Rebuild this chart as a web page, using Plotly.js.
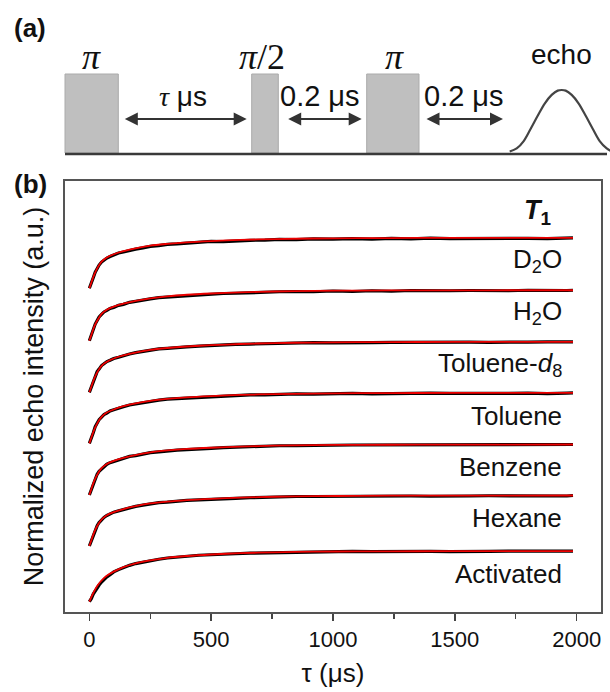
<!DOCTYPE html>
<html>
<head>
<meta charset="utf-8">
<script src="https://cdn.plot.ly/plotly-3.0.1.min.js"></script>
<style>html,body{margin:0;padding:0;background:#fff;}#chart{width:610px;height:692px;}</style>
</head>
<body>
<div id="chart"></div>
<script>
// ---------------- data ----------------
const seriesNames = ['D<sub>2</sub>O', 'H<sub>2</sub>O', 'Toluene-<i>d</i><sub>8</sub>', 'Toluene', 'Benzene', 'Hexane', 'Activated'];
const offsets = [6.41, 5.372, 4.35, 3.34, 2.317, 1.307, 0.204];

const tau = [0, 8, 16, 24, 32, 40, 50, 60, 72, 85, 100, 120, 140, 165, 190, 220, 250, 285, 320, 360, 400, 450, 500, 550, 600, 660, 720, 780, 850, 920, 1000, 1080, 1160, 1240, 1320, 1400, 1480, 1560, 1640, 1720, 1800, 1880, 1960, 1985];

const dataD2O = [0,0.09,0.21,0.32,0.40,0.46,0.52,0.56,0.60,0.63,0.66,0.70,0.72,0.755,0.775,0.80,0.83,0.845,0.87,0.88,0.895,0.905,0.93,0.925,0.94,0.95,0.955,0.97,0.965,0.98,0.975,0.985,0.975,0.99,0.98,0.995,0.985,0.99,0.98,0.995,0.99,0.985,0.99,1.0];
const dataH2O = [0,0.11,0.23,0.33,0.40,0.47,0.52,0.57,0.60,0.64,0.66,0.70,0.72,0.76,0.78,0.81,0.83,0.855,0.865,0.885,0.90,0.91,0.925,0.935,0.94,0.955,0.96,0.97,0.975,0.97,0.985,0.975,0.99,0.98,0.995,0.985,0.99,0.995,0.985,0.99,1.0,0.99,0.995,1.0];
const dataTolD8 = [0,0.10,0.22,0.32,0.41,0.46,0.53,0.565,0.61,0.635,0.67,0.695,0.73,0.76,0.785,0.81,0.835,0.86,0.87,0.89,0.90,0.915,0.93,0.935,0.95,0.955,0.965,0.97,0.975,0.985,0.98,0.99,0.985,0.99,0.995,0.985,0.99,0.995,0.99,0.985,0.995,1.0,0.99,1.0];
const dataToluene = [0,0.09,0.21,0.33,0.40,0.47,0.52,0.57,0.60,0.64,0.665,0.70,0.725,0.76,0.78,0.815,0.835,0.855,0.875,0.885,0.905,0.915,0.925,0.94,0.945,0.96,0.96,0.97,0.98,0.975,0.985,0.99,0.98,0.99,0.985,0.995,0.99,0.985,0.995,0.99,0.995,0.985,0.995,1.0];
const dataBenzene = [0,0.11,0.22,0.32,0.41,0.47,0.52,0.57,0.61,0.64,0.665,0.70,0.73,0.765,0.78,0.815,0.84,0.855,0.875,0.89,0.90,0.92,0.925,0.94,0.95,0.955,0.965,0.975,0.975,0.985,0.985,0.99,0.99,0.985,0.995,0.99,0.995,0.99,0.995,1.0,0.99,0.995,0.995,1.0];
const dataHexane = [0,0.10,0.22,0.33,0.40,0.465,0.525,0.565,0.605,0.635,0.67,0.695,0.725,0.76,0.785,0.81,0.835,0.86,0.87,0.89,0.905,0.915,0.93,0.94,0.945,0.955,0.965,0.97,0.98,0.98,0.985,0.985,0.99,0.995,0.99,0.985,0.995,0.99,0.995,0.99,0.995,0.995,0.99,1.0];
const dataActivated = [0,0.06,0.15,0.22,0.28,0.33,0.39,0.44,0.49,0.535,0.59,0.635,0.68,0.72,0.755,0.785,0.815,0.84,0.865,0.885,0.90,0.92,0.93,0.945,0.95,0.96,0.965,0.975,0.98,0.99,0.99,0.995,0.99,0.995,1.0,0.995,0.99,1.0,0.995,1.0,0.995,1.0,1.0,1.0];

const fitTau = [0, 10, 20, 35, 50, 70, 100, 140, 190, 250, 320, 400, 500, 620, 760, 920, 1100, 1350, 1650, 1985];
const fitD2O = [0,0.14,0.27,0.42,0.53,0.605,0.675,0.735,0.79,0.845,0.88,0.91,0.935,0.958,0.975,0.986,0.993,0.997,0.999,1.0];
const fitH2O = [0,0.14,0.28,0.42,0.53,0.61,0.675,0.735,0.79,0.84,0.88,0.91,0.935,0.957,0.975,0.986,0.993,0.997,0.999,1.0];
const fitTolD8 = [0,0.14,0.27,0.42,0.525,0.60,0.67,0.73,0.785,0.84,0.878,0.908,0.934,0.957,0.975,0.986,0.993,0.997,0.999,1.0];
const fitToluene = [0,0.14,0.27,0.42,0.525,0.605,0.67,0.735,0.79,0.842,0.88,0.91,0.935,0.958,0.975,0.986,0.993,0.997,0.999,1.0];
const fitBenzene = [0,0.145,0.28,0.425,0.53,0.61,0.675,0.735,0.79,0.845,0.882,0.912,0.936,0.958,0.976,0.987,0.993,0.997,0.999,1.0];
const fitHexane = [0,0.14,0.275,0.42,0.525,0.605,0.67,0.732,0.788,0.842,0.88,0.91,0.935,0.957,0.975,0.986,0.993,0.997,0.999,1.0];
const fitActivated = [0,0.11,0.21,0.33,0.42,0.51,0.595,0.685,0.76,0.82,0.87,0.905,0.935,0.96,0.978,0.99,0.996,0.999,1.0,1.0];

const xTickVals = [0, 500, 1000, 1500, 2000];
const xTickText = ['0', '500', '1000', '1500', '2000'];

// echo shape of the pulse-sequence schematic (relative time, relative amplitude)
const echoTime = [-52,-45,-38,-31,-24,-17,-10,-4,0,4,10,17,24,31,38,45,50];
const echoAmp  = [0.0,0.05,0.17,0.37,0.58,0.78,0.92,0.99,1.0,0.99,0.92,0.78,0.58,0.37,0.17,0.05,0.0];

// ---------------- build ----------------
const allData = [dataD2O, dataH2O, dataTolD8, dataToluene, dataBenzene, dataHexane, dataActivated];
const allFit = [fitD2O, fitH2O, fitTolD8, fitToluene, fitBenzene, fitHexane, fitActivated];

const FONT = 'Liberation Sans, Arial, Helvetica, sans-serif';
const SERIF = 'Liberation Serif, Times New Roman, serif';
const traces = [];
allData.forEach((d, i) => {
  traces.push({
    x: tau, y: d.map(v => v + offsets[i]), type: 'scatter', mode: 'lines',
    line: {color: '#000000', width: 3.2}, hoverinfo: 'skip', showlegend: false,
    xaxis: 'x', yaxis: 'y'
  });
});
allFit.forEach((f, i) => {
  traces.push({
    x: fitTau, y: f.map(v => v + offsets[i]), type: 'scatter', mode: 'lines',
    line: {color: '#ee0000', width: 1.8, shape: 'spline', smoothing: 0.8}, hoverinfo: 'skip', showlegend: false,
    xaxis: 'x', yaxis: 'y'
  });
});

// schematic (panel a) on hidden full-page axes in pixel units
const echoCx = 561.7, echoBase = 151.5, echoH = 61.5;
traces.push({
  x: echoTime.map(t => echoCx + t), y: echoAmp.map(a => echoBase - echoH * a),
  type: 'scatter', mode: 'lines', line: {color: '#444444', width: 2.2, shape: 'spline'},
  hoverinfo: 'skip', showlegend: false, xaxis: 'x2', yaxis: 'y2'
});

const W = 610, H = 692;
const plotL = 65, plotR = 601, plotT = 181, plotB = 612;

const shapes = [
  {type: 'rect', xref: 'x2', yref: 'y2', x0: 65, x1: 118.3, y0: 74, y1: 153, fillcolor: '#bfbfbf', line: {color: '#ababab', width: 1}, layer: 'below'},
  {type: 'rect', xref: 'x2', yref: 'y2', x0: 251.7, x1: 278.3, y0: 74, y1: 153, fillcolor: '#bfbfbf', line: {color: '#ababab', width: 1}, layer: 'below'},
  {type: 'rect', xref: 'x2', yref: 'y2', x0: 366.7, x1: 419, y0: 74, y1: 153, fillcolor: '#bfbfbf', line: {color: '#ababab', width: 1}, layer: 'below'},
  {type: 'line', xref: 'x2', yref: 'y2', x0: 65, x1: 607, y0: 154, y1: 154, line: {color: '#3a3a3a', width: 2.5}}
];

function arrow(xa, xb, y) {
  return {xref: 'x2', yref: 'y2', axref: 'x2', ayref: 'y2', x: xb, y: y, ax: xa, ay: y, text: '',
    showarrow: true, arrowhead: 2, startarrowhead: 2, arrowside: 'end+start', arrowsize: 1.3, startarrowsize: 1.3,
    arrowwidth: 2, arrowcolor: '#333333'};
}

const annotations = [
  {xref: 'x2', yref: 'y2', x: 12, y: 27.5, xanchor: 'left', yanchor: 'middle', showarrow: false, text: '<b>(a)</b>', font: {family: FONT, size: 26, color: '#111'}},
  {xref: 'x2', yref: 'y2', x: 12, y: 184, xanchor: 'left', yanchor: 'middle', showarrow: false, text: '<b>(b)</b>', font: {family: FONT, size: 26, color: '#111'}},
  {xref: 'x2', yref: 'y2', x: 91.7, y: 57, showarrow: false, text: '<i>π</i>', font: {family: SERIF, size: 36, color: '#111'}},
  {xref: 'x2', yref: 'y2', x: 262, y: 57, showarrow: false, text: '<i>π</i>/2', font: {family: SERIF, size: 36, color: '#111'}},
  {xref: 'x2', yref: 'y2', x: 394, y: 57, showarrow: false, text: '<i>π</i>', font: {family: SERIF, size: 36, color: '#111'}},
  {xref: 'x2', yref: 'y2', x: 561, y: 54, showarrow: false, text: 'echo', font: {family: FONT, size: 28, color: '#111'}},
  {xref: 'x2', yref: 'y2', x: 183, y: 96, showarrow: false, text: '<span style="font-family:Liberation Serif"><i>τ</i></span> μs', font: {family: FONT, size: 28, color: '#111'}},
  {xref: 'x2', yref: 'y2', x: 320, y: 96, showarrow: false, text: '0.2 μs', font: {family: FONT, size: 29, color: '#111'}},
  {xref: 'x2', yref: 'y2', x: 464, y: 96, showarrow: false, text: '0.2 μs', font: {family: FONT, size: 29, color: '#111'}},
  arrow(123.3, 246.7, 119),
  arrow(286.7, 361.7, 119),
  arrow(425, 503, 119),
  {xref: 'x', yref: 'y', x: 1905, y: 7.93, xanchor: 'right', yanchor: 'middle', showarrow: false,
   text: '<b><i>T</i></b><sub><b>1</b></sub>', font: {family: FONT, size: 27, color: '#111'}}
];
seriesNames.forEach((n, i) => {
  annotations.push({xref: 'x', yref: 'y', x: 1950, y: offsets[i] + 0.55, xanchor: 'right', yanchor: 'middle',
    showarrow: false, text: n, font: {family: FONT, size: 26, color: '#111'}});
});

const layout = {
  width: W, height: H,
  margin: {l: 0, r: 0, t: 0, b: 0, pad: 0},
  paper_bgcolor: '#ffffff', plot_bgcolor: 'rgba(0,0,0,0)',
  showlegend: false,
  font: {family: FONT, color: '#111'},
  xaxis: {
    domain: [plotL / W, plotR / W], range: [-100, 2100], autorange: false,
    tickmode: 'array', tickvals: xTickVals, ticktext: xTickText,
    ticks: 'outside', ticklen: 7, tickwidth: 1.5, tickcolor: '#444',
    minor: {dtick: 250, tick0: 0, ticks: 'outside', ticklen: 4.5, tickwidth: 1.5, tickcolor: '#444', showgrid: false},
    tickfont: {family: FONT, size: 22, color: '#111'}, ticklabelstandoff: 0,
    showline: true, linecolor: '#555', linewidth: 2, mirror: true,
    showgrid: false, zeroline: false,
    title: {text: 'τ (μs)', font: {family: FONT, size: 26, color: '#111'}, standoff: 12}
  },
  yaxis: {
    domain: [1 - plotB / H, 1 - plotT / H], range: [0, 8.535], autorange: false,
    showticklabels: false, ticks: '',
    showline: true, linecolor: '#555', linewidth: 2, mirror: true,
    showgrid: false, zeroline: false,
    title: {text: 'Normalized echo intensity (a.u.)', font: {family: FONT, size: 27, color: '#111'}, standoff: 12}
  },
  xaxis2: {domain: [0, 1], range: [0, W], autorange: false, visible: false, fixedrange: true, anchor: 'y2'},
  yaxis2: {domain: [0, 1], range: [H, 0], autorange: false, visible: false, fixedrange: true, anchor: 'x2'},
  shapes: shapes,
  annotations: annotations
};

Plotly.newPlot('chart', traces, layout, {staticPlot: true, displayModeBar: false});
</script>
</body>
</html>
